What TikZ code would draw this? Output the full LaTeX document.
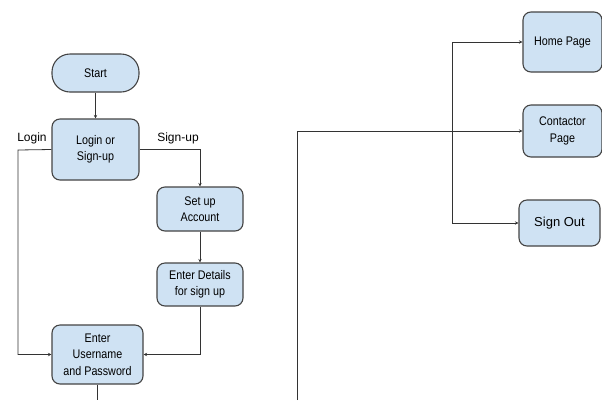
\documentclass[tikz,border=0pt]{standalone}
\usepackage{fontspec}
\setmainfont{Liberation Sans}
\newfontfamily\boxfont{Liberation Sans}[FakeStretch=0.86]
\usetikzlibrary{arrows.meta}
\definecolor{boxfill}{HTML}{CFE2F3}
\definecolor{boxline}{HTML}{444444}
\definecolor{wire}{HTML}{333333}
\tikzset{
  flowbox/.style={draw=boxline, line width=1.1pt, fill=boxfill, rounded corners=8pt,
    inner sep=0pt, align=center, font=\boxfont\fontsize{12.5}{16.5}\selectfont},
  pill/.style={flowbox, rounded corners=18pt},
  wireline/.style={draw=wire, line width=0.8pt},
  arr/.style={wireline, -{Stealth[length=3.5pt,width=3.5pt]}},
  lbl/.style={font=\fontsize{12}{14}\selectfont, inner sep=0pt, anchor=base}
}
\begin{document}
\begin{tikzpicture}[x=1pt,y=-1pt]
\useasboundingbox (0,0) rectangle (602,400);
% left column
\node[pill, minimum width=87pt, minimum height=38pt] (start) at (95.5,73) {Start};
\node[flowbox, minimum width=87pt, minimum height=61pt] (login) at (95.5,149.5) {Login or\\Sign-up};
\node[flowbox, minimum width=86pt, minimum height=44pt] (setup) at (200,209) {Set up\\Account};
\node[flowbox, minimum width=86pt, minimum height=43pt] (details) at (200,284.5) {Enter Details\\for sign up};
\node[flowbox, minimum width=91pt, minimum height=59pt] (user) at (97.5,354.5) {Enter\\Username\\and Password};
% right column
\node[flowbox, minimum width=79pt, minimum height=60pt] (home) at (562.5,42) {Home Page};
\node[flowbox, minimum width=79pt, minimum height=52pt] (contact) at (562.5,131) {Contactor\\Page};
\node[flowbox, minimum width=81pt, minimum height=46pt, font=\fontsize{13}{16}\selectfont] (signout) at (559.5,223) {Sign Out};
% labels
\node[lbl] (loginlbl) at (32,141) {Login};
\node[lbl] (signuplbl) at (178,141) {Sign-up};
% coordinates
\coordinate (lx) at (18,150);
\coordinate (ubot) at (97.5,400);
\coordinate (rbot) at (297,400);
\coordinate (hub) at (452,131);
% connectors
\draw[arr] (start) -- (login);
\draw[arr] (login.west) -- (lx) |- (user.west);
\draw[arr] (login.east) -| (setup.north);
\draw[arr] (setup) -- (details);
\draw[arr] (details.south) |- (user.east);
\draw[wireline] (user.south) -- (ubot);
\draw[arr] (rbot) |- (contact.west);
\draw[arr] (hub) |- (home.west);
\draw[arr] (hub) |- (signout.west);
\end{tikzpicture}
\end{document}
